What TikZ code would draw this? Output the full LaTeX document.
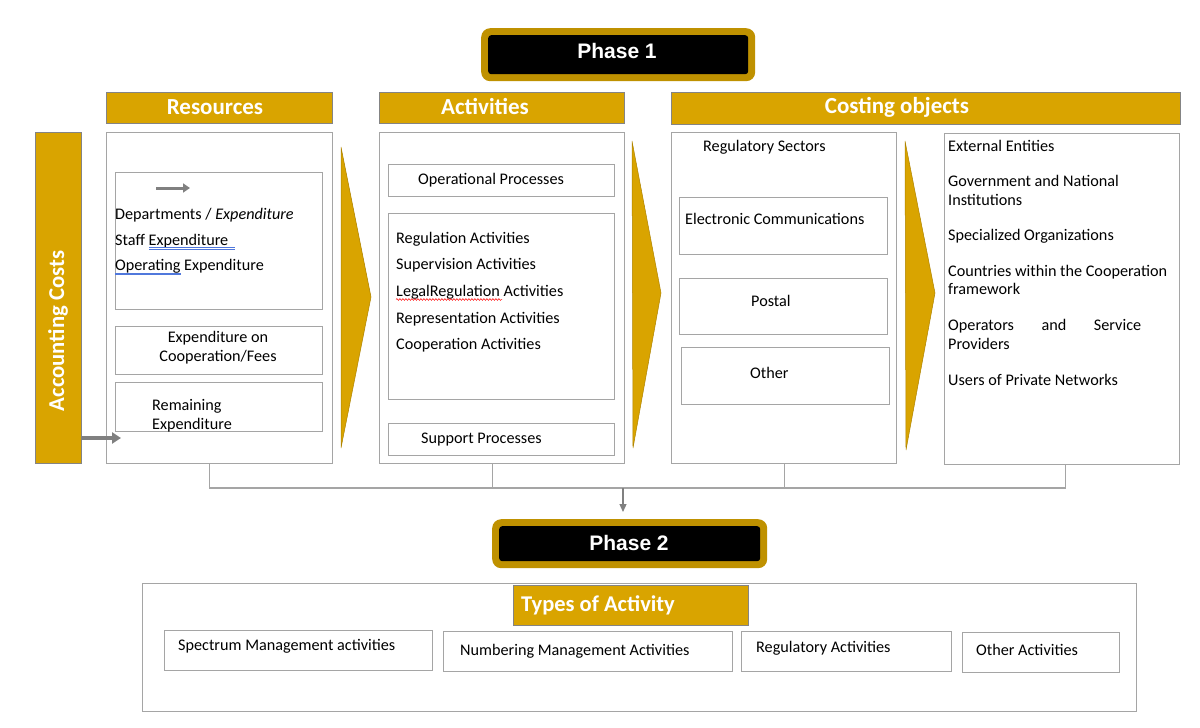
\documentclass[tikz,border=0pt]{standalone}
\usepackage{fontspec}
\setmainfont{Carlito}
\newfontfamily\phasefont{Liberation Sans}
\usetikzlibrary{arrows.meta,decorations.pathmorphing}
\definecolor{gold}{RGB}{217,164,0}
\definecolor{phasegold}{RGB}{191,145,0}
\definecolor{boxgray}{RGB}{165,165,165}
\definecolor{arrowgray}{RGB}{128,128,128}
\definecolor{spellblue}{RGB}{80,120,220}
\newcommand\mybox[7]{\node[#6, anchor=north west, inner sep=0pt, minimum width={(#4-#2)*1pt}, minimum height={(#5-#3)*1pt}] (#1) at (#2,#3) {#7};}
\begin{document}
\begin{tikzpicture}[x=1pt,y=-1pt,
  box/.style={draw=boxgray, line width=1.3pt, fill=white},
  header/.style={draw=boxgray!80!black, line width=0.8pt, fill=gold},
  htext/.style={inner sep=0pt, text=white, font=\fontsize{23}{26}\selectfont\bfseries},
  phaseout/.style={fill=phasegold, rounded corners=9pt},
  phasein/.style={fill=black, rounded corners=3pt},
  ptext/.style={inner sep=0pt, text=white, font=\phasefont\fontsize{21}{24}\selectfont\bfseries},
  txt/.style={inner sep=0pt, anchor=base west, font=\fontsize{16.2}{19}\selectfont},
  chev/.style={fill=gold, draw=gold!80!black, line width=0.5pt},
  conn/.style={draw=boxgray, line width=1.3pt},
  grayarrow/.style={draw=arrowgray, line width=3.5pt, -{Triangle[length=9pt,width=11pt]}},
]
\useasboundingbox (0,0) rectangle (1200,728);
\fill[white] (0,0) rectangle (1200,728);

% Phase 1
\mybox{p1out}{481}{28}{755}{81}{phaseout}{}
\mybox{p1}{488}{35}{748}{74}{phasein}{}
\node[ptext] (p1t) at (617,51) {Phase 1};

% Headers
\mybox{hres}{106}{92}{332}{123}{header}{}
\node[htext] (hrest) at (215,107) {Resources};
\mybox{hact}{379}{92}{624}{123}{header}{}
\node[htext] (hactt) at (485,106) {Activities};
\mybox{hcost}{671}{92}{1180}{124}{header}{}
\node[htext] (hcostt) at (897,107) {Costing objects};

% Accounting costs
\mybox{acc}{35}{132}{81}{463}{header}{}
\node[rotate=90, text=white, font=\fontsize{22.7}{26}\selectfont\bfseries] (acct) at (58,331) {Accounting Costs};

% Resources column
\mybox{res}{106}{132}{332}{463}{box}{}
\mybox{rb1}{115}{172}{322}{309}{box}{}
\mybox{rb2}{115}{326}{322}{374}{box}{}
\mybox{rb3}{115}{382}{322}{431}{box}{}
\coordinate (sa1) at (156,188);
\coordinate (sa2) at (190,188);
\draw[draw=arrowgray, line width=3pt, -{Triangle[length=7pt,width=9pt]}] (sa1) -- (sa2);
\node[txt] (r1) at (115,219) {Departments / \textit{Expenditure}};
\node[txt] (r2) at (115,245) {Staff Expenditure};
\node[txt] (r3) at (115,270) {Operating Expenditure};
\draw[spellblue, line width=0.6pt] (149,247.5) -- (235,247.5) (149,249.2) -- (235,249.2);
\draw[spellblue, line width=0.6pt] (115,273) -- (181,273) (115,274.7) -- (181,274.7);
\node[inner sep=0pt, align=center, font=\fontsize{16.2}{19}\selectfont] (r4) at (218,348) {Expenditure on\\Cooperation/Fees};
\node[txt] (r5) at (152,410) {Remaining};
\node[txt] (r6) at (152,429) {Expenditure};
\coordinate (accout) at (81,438);
\coordinate (accin) at (121,438);
\draw[grayarrow] (accout) -- (accin);

% Chevron 1
\fill[chev] (341,147) -- (371,297) -- (341,448) -- cycle;

% Activities column
\mybox{act}{379}{132}{624}{463}{box}{}
\mybox{ab1}{388}{164}{614}{196}{box}{}
\mybox{ab2}{388}{213}{614}{399}{box}{}
\mybox{ab3}{388}{423}{614}{455}{box}{}
\node[txt] (a0) at (418,184) {Operational Processes};
\node[txt] (a1) at (396,243) {Regulation Activities};
\node[txt] (a2) at (396,269) {Supervision Activities};
\node[txt] (a3) at (396,296) {LegalRegulation Activities};
\node[txt] (a4) at (396,323) {Representation Activities};
\node[txt] (a5) at (396,349) {Cooperation Activities};
\draw[red, line width=0.5pt, decorate, decoration={snake, amplitude=0.9pt, segment length=3pt}] (396,299.5) -- (502,299.5);
\node[txt] (a6) at (421,443) {Support Processes};

% Chevron 2
\fill[chev] (632,141) -- (661,293) -- (633,448) -- cycle;

% Costing objects: sectors
\mybox{co1}{671}{132}{896}{463}{box}{}
\node[txt] (c0) at (703,151) {Regulatory Sectors};
\mybox{cb1}{679}{197}{887}{254}{box}{}
\mybox{cb2}{679}{278}{887}{334}{box}{}
\mybox{cb3}{681}{347}{889}{404}{box}{}
\node[txt] (c1) at (685,224) {Electronic Communications};
\node[txt] (c2) at (751,306) {Postal};
\node[txt] (c3) at (750,378) {Other};

% Chevron 3
\fill[chev] (905,141) -- (935,293) -- (906,450) -- cycle;

% Costing objects: entities
\mybox{co2}{944}{133}{1179}{464}{box}{}
\node[txt] (e1) at (948,151) {External Entities};
\node[txt] (e2) at (948,186) {Government and National};
\node[txt] (e3) at (948,205) {Institutions};
\node[txt] (e4) at (948,240) {Specialized Organizations};
\node[txt] (e5) at (948,276) {Countries within the Cooperation};
\node[txt] (e6) at (948,294) {framework};
\node[txt] (e7) at (948,330) {\makebox[193pt][s]{Operators and Service}};
\node[txt] (e8) at (948,349) {Providers};
\node[txt] (e9) at (948,385) {Users of Private Networks};

% Phase 2
\mybox{p2out}{492}{519}{767}{568}{phaseout}{}
\mybox{p2}{499}{526}{760}{561}{phasein}{}
\node[ptext] (p2t) at (629,543) {Phase 2};

% Connectors to Phase 2
\coordinate (bus) at (623,488);
\draw[conn] ([xshift=-10pt]res.south) -- ([xshift=-10pt]res.south |- bus) -- ([xshift=3pt]co2.south |- bus) -- ([xshift=3pt]co2.south);
\draw[conn] ([xshift=-10pt]act.south) -- ([xshift=-10pt]act.south |- bus);
\draw[conn] (co1.south) -- (co1.south |- bus);
\draw[draw=arrowgray, line width=1.2pt, -{Triangle[length=8pt,width=7pt]}, shorten >=7pt] (bus) -- (bus |- p2out.north);

% Phase 2 content
\mybox{pb}{142}{583}{1136}{711}{box}{}
\mybox{types}{513}{585}{748}{625}{header}{}
\node[inner sep=0pt, anchor=base west, text=white, font=\fontsize{22.5}{26}\selectfont\bfseries] (tt) at (521,611) {Types of Activity};
\mybox{t1}{164}{630}{432}{670}{box}{}
\mybox{t2}{443}{631}{732}{671}{box}{}
\mybox{t3}{741}{631}{951}{671}{box}{}
\mybox{t4}{962}{632}{1119}{672}{box}{}
\node[txt] (tx1) at (178,650) {Spectrum Management activities};
\node[txt] (tx2) at (460,655) {Numbering Management Activities};
\node[txt] (tx3) at (756,652) {Regulatory Activities};
\node[txt] (tx4) at (976,655) {Other Activities};
\end{tikzpicture}
\end{document}
